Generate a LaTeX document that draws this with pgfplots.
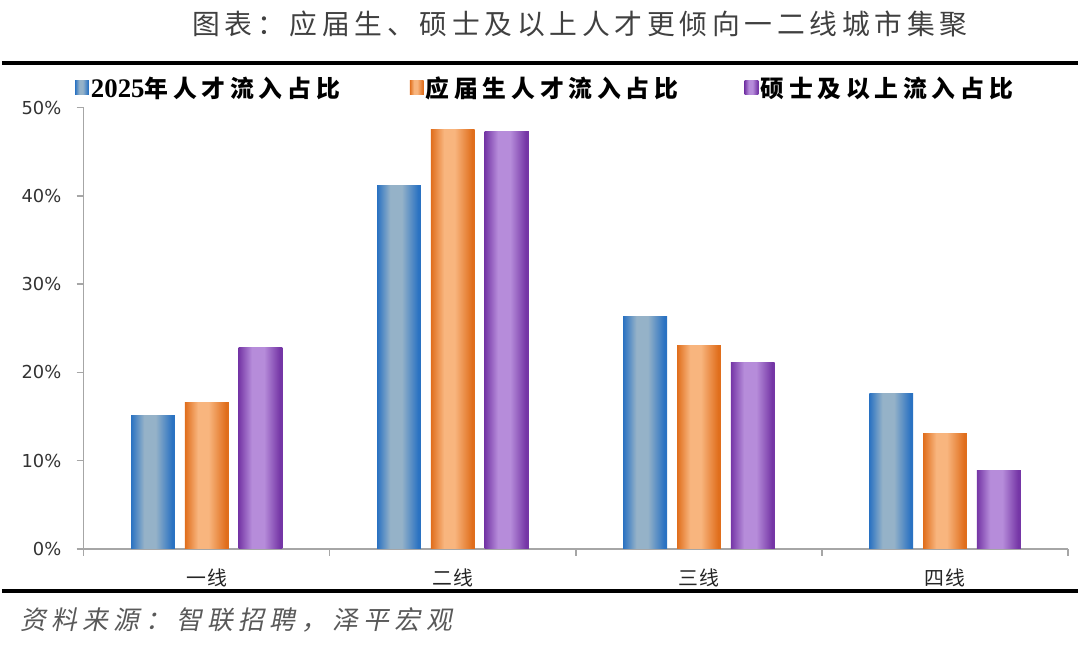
\documentclass[border=0pt]{standalone}
\usepackage{pgfplots}
\pgfplotsset{compat=1.18}
\usepackage{fontspec}
\setmainfont{DejaVu Sans}
\newfontfamily\titlefont[LetterSpace=17]{Noto Sans CJK SC}
\newfontfamily\legfont[LetterSpace=20]{Noto Sans CJK SC}
\newfontfamily\legdig{Liberation Serif}
\newfontfamily\catfont[LetterSpace=3]{Noto Sans CJK SC}
\newfontfamily\footfont[LetterSpace=21,FakeSlant=0.2]{Noto Sans CJK SC}
\newfontfamily\tickfont{DejaVu Sans}
\definecolor{blueD}{HTML}{2A72C2}
\definecolor{blueL}{HTML}{95B2C8}
\definecolor{orangeD}{HTML}{E06E1C}
\definecolor{orangeL}{HTML}{F8B57E}
\definecolor{purpleD}{HTML}{7536A6}
\definecolor{purpleL}{HTML}{B68CDA}
\definecolor{axgray}{HTML}{A6A6A6}

\pgfdeclarehorizontalshading{blueshade}{100bp}{color(0bp)=(blueD); color(25bp)=(blueD); color(40bp)=(blueL); color(53bp)=(blueL); color(72bp)=(blueD); color(100bp)=(blueD)}
\pgfdeclarehorizontalshading{orangeshade}{100bp}{color(0bp)=(orangeD); color(25bp)=(orangeD); color(40bp)=(orangeL); color(52bp)=(orangeL); color(72bp)=(orangeD); color(100bp)=(orangeD)}
\pgfdeclarehorizontalshading{purpleshade}{100bp}{color(0bp)=(purpleD); color(25bp)=(purpleD); color(40bp)=(purpleL); color(54bp)=(purpleL); color(72bp)=(purpleD); color(100bp)=(purpleD)}

\begin{document}
\begin{tikzpicture}[x=1bp,y=1bp]
\path (0,0) rectangle (1080,651);
\draw[line width=4bp] (0,588) -- (1080,588);
\draw[line width=3.5bp] (0,58) -- (1080,58);
\node[text=black!75, inner sep=0pt] at (580,627) {\fontsize{28}{28}\selectfont\titlefont 图表：应届生、硕士及以上人才更倾向一二线城市集聚};
\node[anchor=west, text=black!65, inner sep=0pt] at (18,29) {\fontsize{26}{26}\selectfont\footfont 资料来源：智联招聘，泽平宏观};
\begin{axis}[
  at={(82bp,100bp)}, anchor=south west,
  scale only axis, width=988bp, height=443bp,
  xmin=-0.5, xmax=3.5, ymin=0, ymax=50,
  axis lines*=left,
  axis line style={draw=axgray, line width=1.3bp},
  ybar, bar width=44bp,
  xtick={0,1,2,3},
  xticklabels={一线,二线,三线,四线},
  every major x tick/.style={draw=none},
  minor xtick={-0.5,0.5,1.5,2.5,3.5},
  ytick={0,10,20,30,40,50},
  yticklabels={0\%,10\%,20\%,30\%,40\%,50\%},
  tick align=outside,
  major tick length=7bp, minor tick length=7bp,
  every tick/.style={draw=axgray, line width=1.3bp},
  xticklabel style={font=\fontsize{20}{20}\selectfont\catfont, text=black!85, yshift=-9bp},
  yticklabel style={font=\fontsize{18}{18}\selectfont\tickfont, text=black!80, xshift=-12bp},
  legend style={at={(-0.009,1.045)}, anchor=west, draw=none, fill=none,
    font=\fontsize{24}{24}\selectfont\legfont\bfseries, inner sep=0pt,
    /tikz/every even column/.append style={column sep=0bp}},
  legend columns=3,
  legend cell align=left,
  every axis plot post/.append style={draw=none,
    legend image code/.code={\path[##1,draw=none] (0bp,-7bp) rectangle (14bp,7bp);}},
  blue bar/.style={fill=blueD, shade, shading=blueshade, bar shift=-54bp},
  orange bar/.style={fill=orangeD, shade, shading=orangeshade, bar shift=0bp},
  purple bar/.style={fill=purpleD, shade, shading=purpleshade, bar shift=54bp},
]
% 2025 talent inflow share
\addplot[blue bar] coordinates {(0,15.1)};
\addlegendentry{\makebox[318bp][l]{{\fontsize{27}{27}\selectfont\legdig\bfseries 2025}年人才流入占比}}
\addplot[orange bar] coordinates {(0,16.6)};
\addlegendentry{\makebox[318bp][l]{应届生人才流入占比}}
\addplot[purple bar] coordinates {(0,22.8)};
\addlegendentry{\makebox[262bp][l]{硕士及以上流入占比}}
\addplot[blue bar, forget plot] coordinates {(1,41.2)};
\addplot[blue bar, forget plot] coordinates {(2,26.3)};
\addplot[blue bar, forget plot] coordinates {(3,17.6)};
\addplot[orange bar, forget plot] coordinates {(1,47.5)};
\addplot[orange bar, forget plot] coordinates {(2,23.0)};
\addplot[orange bar, forget plot] coordinates {(3,13.1)};
\addplot[purple bar, forget plot] coordinates {(1,47.3)};
\addplot[purple bar, forget plot] coordinates {(2,21.1)};
\addplot[purple bar, forget plot] coordinates {(3,8.9)};
\end{axis}
\end{tikzpicture}
\end{document}
